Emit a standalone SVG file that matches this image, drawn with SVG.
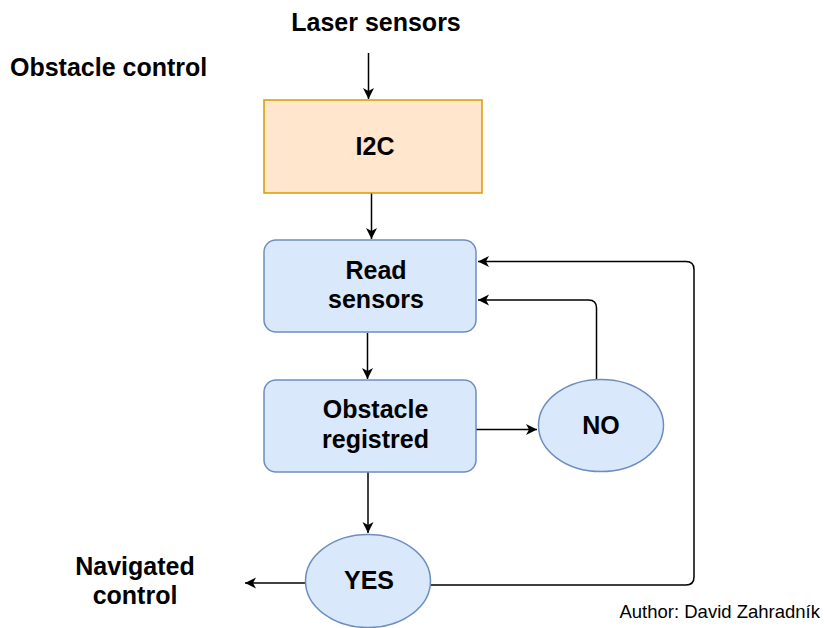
<svg xmlns="http://www.w3.org/2000/svg" width="825" height="628" viewBox="0 0 825 628">
<style>
.t{font-family:"Liberation Sans",Arial,sans-serif;font-weight:bold;font-size:25px;fill:#000;text-anchor:middle}
.a{font-family:"Liberation Sans",Arial,sans-serif;font-size:18.5px;fill:#000;text-anchor:end}
.blue{fill:#dae8fc;stroke:#6c8ebf;stroke-width:1.5}
.orange{fill:#ffe6cc;stroke:#d79b00;stroke-width:1.5}
.c{fill:none;stroke:#000;stroke-width:1.5}
</style>
<defs>
<marker id="ar" markerUnits="userSpaceOnUse" markerWidth="14" markerHeight="12" refX="11" refY="5.5" orient="auto">
<path d="M0,0 L11,5.5 L0,11 L3,5.5 z" fill="#000"/>
</marker>
</defs>
<rect width="825" height="628" fill="#fff"/>
<text class="t" x="376" y="31">Laser sensors</text>
<text class="t" x="10" y="76" style="text-anchor:start">Obstacle control</text>
<g id="connectors">
<path class="c" d="M368.5,53 V99" marker-end="url(#ar)"/>
<path class="c" d="M371.5,193 V239" marker-end="url(#ar)"/>
<path class="c" d="M367.5,333 V379" marker-end="url(#ar)"/>
<path class="c" d="M476,429.5 H537" marker-end="url(#ar)"/>
<path class="c" d="M596.5,379 V308 Q596.5,300 588.5,300 H478" marker-end="url(#ar)"/>
<path class="c" d="M368,472 V533" marker-end="url(#ar)"/>
<path class="c" d="M430,585 H686 Q694,585 694,577 V269.5 Q694,261.5 686,261.5 H478" marker-end="url(#ar)"/>
<path class="c" d="M305,583 H245" marker-end="url(#ar)"/>
</g>
<g id="i2c">
<rect class="orange" x="264" y="100" width="218" height="93"/>
<text class="t" x="375" y="155">I2C</text>
</g>
<g id="read">
<rect class="blue" x="264" y="240" width="212" height="92" rx="12"/>
<text class="t" x="376" y="279">Read</text>
<text class="t" x="376" y="308">sensors</text>
</g>
<g id="obstacle">
<rect class="blue" x="264" y="380" width="212" height="92" rx="12"/>
<text class="t" x="375.5" y="418">Obstacle</text>
<text class="t" x="375.5" y="448">registred</text>
</g>
<g id="no">
<ellipse class="blue" cx="601" cy="425.5" rx="62.5" ry="46"/>
<text class="t" x="601" y="434">NO</text>
</g>
<g id="yes">
<ellipse class="blue" cx="368" cy="581" rx="62.5" ry="46.5"/>
<text class="t" x="369" y="589">YES</text>
</g>
<g id="navigated">
<text class="t" x="135" y="575">Navigated</text>
<text class="t" x="135" y="604">control</text>
</g>
<text class="a" x="820" y="618">Author: David Zahradník</text>
</svg>
